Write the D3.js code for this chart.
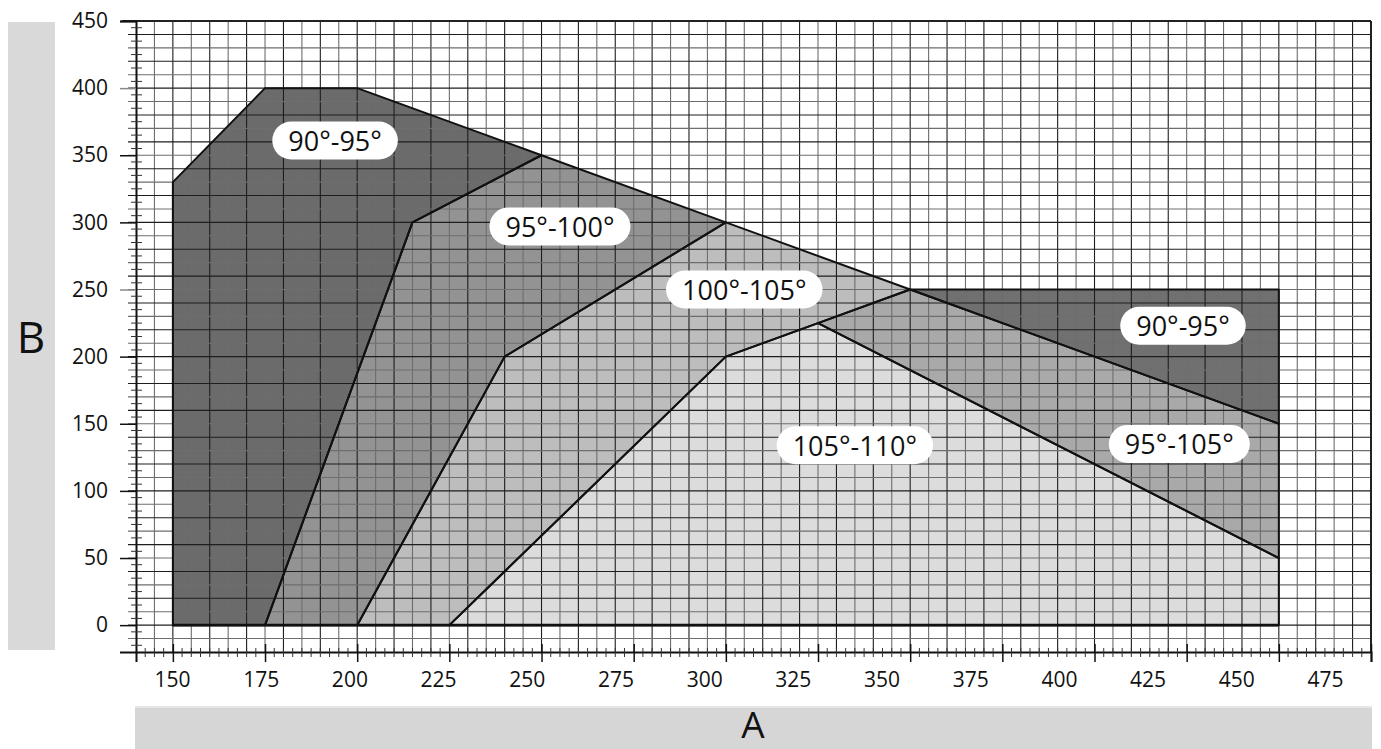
<!DOCTYPE html>
<html>
<head>
<meta charset="utf-8">
<script src="https://cdn.jsdelivr.net/npm/d3@7"></script>
<style>
  body { margin: 0; background: #fff; }
  svg { display: block; font-family: "Open Sans", sans-serif; }
</style>
</head>
<body>
<div class="svgArea"></div>
<script>
// zones of the A/B diagram, [A, B] corners
const zone90a = [[150,0],[150,330],[175,400],[200,400],[250,350],[215,300],[175,0]];
const zone95 = [[175,0],[215,300],[250,350],[300,300],[240,200],[200,0]];
const zone100 = [[200,0],[240,200],[300,300],[350,250],[325,225],[300,200],[225,0]];
const zone105 = [[225,0],[300,200],[325,225],[450,50],[450,0]];
const zone95b = [[325,225],[350,250],[450,150],[450,50]];
const zone90b = [[350,250],[450,250],[450,150]];

const zoneFills = ["#6b6b6b", "#939393", "#bdbdbd", "#dcdcdc", "#a9a9a9", "#707070"];
const zones = [zone90a, zone95, zone100, zone105, zone95b, zone90b];

// label text + anchor in data units
const zoneLabels = [
  ["90°-95°", 194, 361],
  ["95°-100°", 255, 297],
  ["100°-105°", 305, 250],
  ["90°-95°", 424, 223],
  ["95°-105°", 423, 135],
  ["105°-110°", 335, 134]
];

const xTicks = [150,175,200,225,250,275,300,325,350,375,400,425,450,475];
const yTicks = [0,50,100,150,200,250,300,350,400,450];

const width = 1381;
const height = 749;

const x = d3.scaleLinear().domain([140, 475]).range([136, 1371]);
const y = d3.scaleLinear().domain([-20, 450]).range([652, 21]);
// the printed labels drift from the grid a bit
const xLab = d3.scaleLinear().domain([150, 475]).range([172, 1325]);

const svg = d3.select(".svgArea")
    .append("svg")
    .attr("width", width)
    .attr("height", height);

// grey title bars
svg.append("rect").attr("x", 8).attr("y", 22).attr("width", 47).attr("height", 628).attr("fill", "#d9d9d9");
svg.append("rect").attr("x", 135).attr("y", 706).attr("width", 1237).attr("height", 43).attr("fill", "#d6d6d6");
svg.append("line").attr("x1", 135).attr("x2", 1372).attr("y1", 707).attr("y2", 707).attr("stroke", "#e6e6e6").attr("stroke-width", 2);

svg.append("text")
    .attr("x", 31).attr("y", 336)
    .attr("text-anchor", "middle").attr("dominant-baseline", "central")
    .style("font-size", "44px").attr("fill", "#111")
    .text("B");
svg.append("text")
    .attr("x", 753).attr("y", 723)
    .attr("text-anchor", "middle").attr("dominant-baseline", "central")
    .style("font-size", "37px").attr("fill", "#111")
    .text("A");

// zones
const line = d3.line().x(d => x(d[0])).y(d => y(d[1]));
svg.selectAll("path.zone")
    .data(zones)
    .enter()
    .append("path")
    .attr("class", "zone")
    .attr("d", d => line(d) + "Z")
    .attr("fill", (d, i) => zoneFills[i]);

// grid
const vGrid = d3.range(145, 471, 5);
const hGrid = d3.range(-10, 441, 10);
svg.append("g").selectAll("line")
    .data(vGrid)
    .enter()
    .append("line")
    .attr("x1", d => x(d)).attr("x2", d => x(d))
    .attr("y1", y(450)).attr("y2", y(-20))
    .attr("stroke", d => d % 10 === 0 ? "#1e1e1e" : "#6e6e6e")
    .attr("stroke-width", 1.1);
svg.append("g").selectAll("line")
    .data(hGrid)
    .enter()
    .append("line")
    .attr("x1", 128).attr("x2", x(475))
    .attr("y1", d => y(d)).attr("y2", d => y(d))
    .attr("stroke", d => d % 20 === 0 ? "#1e1e1e" : "#6e6e6e")
    .attr("stroke-width", 1.1);

// zone outlines
svg.selectAll("path.edge")
    .data(zones)
    .enter()
    .append("path")
    .attr("class", "edge")
    .attr("d", d => line(d) + "Z")
    .attr("fill", "none")
    .attr("stroke", "#111")
    .attr("stroke-width", 2)
    .attr("stroke-linejoin", "round");
svg.append("line")
    .attr("x1", x(150)).attr("x2", x(450))
    .attr("y1", y(0)).attr("y2", y(0))
    .attr("stroke", "#111").attr("stroke-width", 2.6);

// frame
svg.append("line").attr("x1", 122).attr("x2", x(475)).attr("y1", y(450)).attr("y2", y(450)).attr("stroke", "#222").attr("stroke-width", 2);
svg.append("line").attr("x1", x(475)).attr("x2", x(475)).attr("y1", y(450)).attr("y2", y(-20)).attr("stroke", "#222").attr("stroke-width", 2);

// y axis
const yAxis = d3.axisLeft(y).tickValues(yTicks).tickSize(16).tickFormat(d3.format("d"));
const yG = svg.append("g")
    .attr("transform", "translate(" + x(140) + ",0)")
    .call(yAxis);
yG.select(".domain").attr("stroke", "#111").attr("stroke-width", 2);
yG.selectAll(".tick line").attr("stroke", d => d === 400 || d === 250 ? "#888" : "#111").attr("stroke-width", 1.5);
yG.selectAll(".tick text")
    .attr("x", -28)
    .style("font-size", "21px")
    .style("font-family", "Open Sans")
    .attr("fill", "#111");
svg.append("g").selectAll("line")
    .data(d3.range(-15, 450, 10))
    .enter()
    .append("line")
    .attr("x1", 131).attr("x2", 142)
    .attr("y1", d => y(d)).attr("y2", d => y(d))
    .attr("stroke", "#333").attr("stroke-width", 1);

// x axis
const xG = svg.append("g")
    .attr("transform", "translate(0," + y(-20) + ")")
    .call(d3.axisBottom(x).tickValues(xTicks).tickSize(10).tickFormat(""));
xG.select(".domain").attr("stroke", "#111").attr("stroke-width", 2);
xG.selectAll(".tick line").attr("stroke", "#111").attr("stroke-width", 1.5).attr("y1", -8);
svg.append("g").selectAll("line")
    .data(d3.range(142.5, 475, 2.5).filter(d => d % 25 !== 0))
    .enter()
    .append("line")
    .attr("x1", d => x(d)).attr("x2", d => x(d))
    .attr("y1", y(-20) - 4).attr("y2", y(-20) + 5)
    .attr("stroke", "#333").attr("stroke-width", 1);

const xLabG = svg.append("g")
    .attr("transform", "translate(0," + y(-20) + ")")
    .call(d3.axisBottom(xLab).tickValues(xTicks).tickSize(0).tickPadding(20));
xLabG.select(".domain").remove();
xLabG.selectAll(".tick text")
    .style("font-size", "21px")
    .style("font-family", "Open Sans")
    .attr("fill", "#111");

// zone labels
const lab = svg.append("g").selectAll("g")
    .data(zoneLabels)
    .enter()
    .append("g")
    .attr("transform", d => "translate(" + x(d[1]) + "," + y(d[2]) + ")");
lab.append("rect").attr("fill", "#fff");
lab.append("text")
    .attr("text-anchor", "middle")
    .attr("dominant-baseline", "central")
    .style("font-size", "27px")
    .attr("fill", "#111")
    .text(d => d[0]);
lab.each(function() {
    const g = d3.select(this);
    const w = g.select("text").node().getComputedTextLength() + 32;
    g.select("rect")
        .attr("x", -w / 2).attr("y", -19)
        .attr("width", w).attr("height", 38)
        .attr("rx", 19);
});
</script>
</body>
</html>
